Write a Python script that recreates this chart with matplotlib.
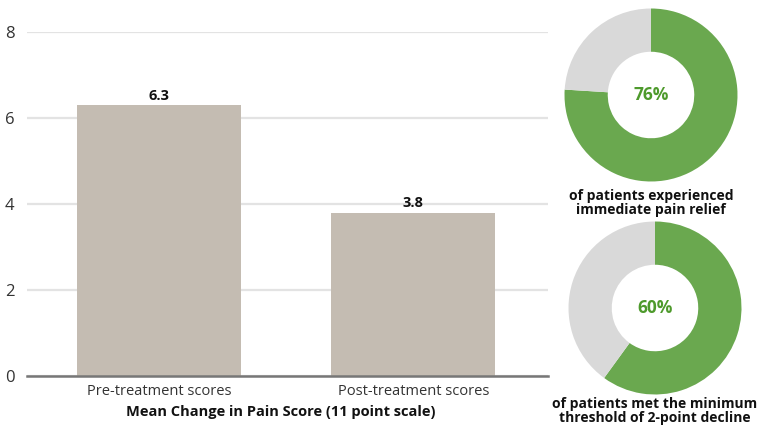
import matplotlib
matplotlib.use("Agg")
import matplotlib.pyplot as plt

plt.rcParams['font.family'] = ['Open Sans', 'DejaVu Sans']

categories = ["Pre-treatment scores", "Post-treatment scores"]
values = [6.3, 3.8]
yticks = [0, 2, 4, 6, 8]
axis_title = "Mean Change in Pain Score (11 point scale)"

donut_values = [76, 60]
donut_captions = ["of patients experienced\nimmediate pain relief",
                  "of patients met the minimum\nthreshold of 2-point decline"]

W, H = 765, 425
fig = plt.figure(figsize=(W / 100, H / 100), dpi=100)

def px_axes(x0, y0, x1, y1):
    return fig.add_axes([x0 / W, 1 - y1 / H, (x1 - x0) / W, (y1 - y0) / H])

ax = px_axes(27, 32, 548, 376)
bar_color = "#c4bcb2"
x = range(len(categories))
bars = ax.bar(x, values, width=0.646, color=bar_color, zorder=3)
ax.set_xlim(-0.52, 1.53)
ax.set_ylim(0, 8)
ax.set_yticks(yticks)
ax.set_yticklabels([str(t) for t in yticks], fontsize=12, color="#333333")
ax.set_xticks(list(x))
ax.set_xticklabels(categories, fontsize=10.5, color="#333333")
ax.tick_params(axis='both', length=0)
ax.tick_params(axis='y', pad=9)
ax.tick_params(axis='x', pad=6)
ax.grid(axis='y', color="#e3e3e3", linewidth=1.6, zorder=0)
for s in ["top", "right", "left"]:
    ax.spines[s].set_visible(False)
ax.spines["bottom"].set_color("#777777")
ax.spines["bottom"].set_linewidth(1.8)
ax.spines["bottom"].set_zorder(4)
for b, v in zip(bars, values):
    ax.text(b.get_x() + b.get_width() / 2, v + 0.06, f"{v}", ha="center", va="bottom",
            fontsize=10.5, fontweight="bold", color="#111111")
fig.text(281 / W, 1 - 412 / H, axis_title, ha="center", va="center", fontsize=10.5,
         fontweight="bold", color="#111111")

green = "#6aa84f"
grey = "#d9d9d9"
centers = [(651, 95), (655, 308)]
R = 86.5
caption_y = [203, 411]
for (cx, cy), val, cap, ty in zip(centers, donut_values, donut_captions, caption_y):
    dax = px_axes(cx - R, cy - R, cx + R, cy + R)
    dax.pie([val, 100 - val], colors=[green, grey], startangle=90, counterclock=False,
            radius=1, wedgeprops=dict(width=0.5, edgecolor='none'))
    dax.set_xlim(-1, 1)
    dax.set_ylim(-1, 1)
    dax.set_aspect('equal')
    dax.axis('off')
    dax.text(0, 0, f"{val}%", ha="center", va="center", fontsize=12.5,
             fontweight="bold", color="#4e9a2c")
    fig.text(cx / W, 1 - ty / H, cap, ha="center", va="center", fontsize=10,
             fontweight="bold", color="#111111", linespacing=0.95)

fig.savefig("out.png", dpi=100)
